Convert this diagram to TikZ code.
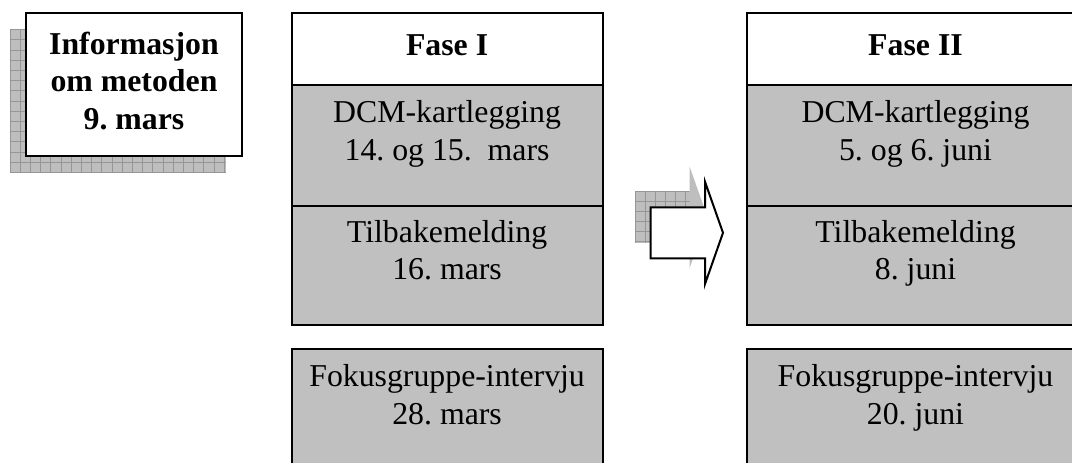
\documentclass[tikz,border=0pt]{standalone}
\usepackage{fontspec}
\setmainfont{Liberation Serif}
\definecolor{cellgray}{RGB}{192,192,192}
\definecolor{shadegray}{RGB}{190,190,190}
\definecolor{shadeline}{RGB}{150,150,150}
\frenchspacing
\begin{document}
\begin{tikzpicture}[x=1pt,y=-1pt,
  box/.style={draw=black, line width=2pt, outer sep=0pt, inner sep=0pt, anchor=north west},
  cell/.style={box, fill=cellgray},
  head/.style={box, fill=white},
  txt/.style={font=\fontsize{31.8pt}{37.3pt}\selectfont, align=center, inner sep=0pt, anchor=north},
  btxt/.style={txt, font=\fontsize{31.8pt}{37.3pt}\selectfont\bfseries},
  gridline/.style={draw=shadeline, line width=0.8pt},
  blockarrow/.style={draw=black, line width=2pt, fill=white, line join=miter}
]
\useasboundingbox (0,0) rectangle (1072,463);
\clip (0,0) rectangle (1072,463);

% --- hatched drop shadow of the information box
\begin{scope}
  \clip (10,29.5) rectangle (226,172.5);
  \fill[shadegray] (10,29.5) rectangle (226,172.5);
  \foreach \i in {0,...,21} \draw[gridline] ({10+10.2*\i},29.5) -- ++(0,143);
  \foreach \j in {0,...,14} \draw[gridline] (10,{29.5+10.2*\j}) -- ++(216,0);
\end{scope}

% --- information box
\node[head, minimum width=216pt, minimum height=143pt] (info) at (26,13) {};
\node[btxt] (infotext) at ([yshift=-16.3pt]info.north)
  {\rule{0pt}{25pt}Informasjon\\om metoden\\9. mars};

% --- phase I column
\node[head, minimum width=311.2pt, minimum height=72pt] (hdrI) at (291.5,13) {};
\node[btxt, anchor=base] (hdrItext) at ([yshift=-42pt]hdrI.north) {Fase I};
\node[cell, minimum width=311.2pt, minimum height=121pt] (dcmI) at (291.5,85) {};
\node[txt] (dcmItext) at ([yshift=-12.5pt]dcmI.north)
  {\rule{0pt}{25pt}DCM-kartlegging\\14. og 15.\ \ mars};
\node[cell, minimum width=311.2pt, minimum height=119pt] (tilI) at (291.5,206) {};
\node[txt] (tilItext) at ([yshift=-11pt]tilI.north)
  {\rule{0pt}{25pt}Tilbakemelding\\16. mars};
\node[cell, minimum width=311.2pt, minimum height=140pt] (fokI) at (291.5,349) {};
\node[txt] (fokItext) at ([yshift=-12.5pt]fokI.north)
  {\rule{0pt}{25pt}Fokusgruppe-intervju\\28. mars};

% --- phase II column
\node[head, minimum width=337pt, minimum height=72pt] (hdrII) at (747,13) {};
\node[btxt, anchor=base] (hdrIItext) at ([yshift=-42pt]hdrII.north) {Fase II};
\node[cell, minimum width=337pt, minimum height=121pt] (dcmII) at (747,85) {};
\node[txt] (dcmIItext) at ([yshift=-12.5pt]dcmII.north)
  {\rule{0pt}{25pt}DCM-kartlegging\\5. og 6. juni};
\node[cell, minimum width=337pt, minimum height=119pt] (tilII) at (747,206) {};
\node[txt] (tilIItext) at ([yshift=-11pt]tilII.north)
  {\rule{0pt}{25pt}Tilbakemelding\\8. juni};
\node[cell, minimum width=337pt, minimum height=140pt] (fokII) at (747,349) {};
\node[txt] (fokIItext) at ([yshift=-12.5pt]fokII.north)
  {\rule{0pt}{25pt}Fokusgruppe-intervju\\20. juni};

% --- block arrow between the phases, with its hatched shadow
\fill[shadegray] (635.2,191.8) -- (689.5,191.8) -- (689.5,166.2) -- (707.5,217.2)
  -- (689.5,268.5) -- (689.5,242.8) -- (635.2,242.8) -- cycle;
\begin{scope}
  \clip (635.2,191.8) rectangle (689.5,242.8);
  \foreach \i in {0,...,6} \draw[gridline] ({635.2+10*\i},191.8) -- ++(0,51);
  \foreach \j in {0,...,5} \draw[gridline] (635.2,{191.8+10*\j}) -- ++(54.3,0);
\end{scope}
\draw[blockarrow] (650.7,207.3) -- (705,207.3) -- (705,181.7) -- (723,232.8)
  -- (705,284) -- (705,258.3) -- (650.7,258.3) -- cycle;
\end{tikzpicture}
\end{document}
